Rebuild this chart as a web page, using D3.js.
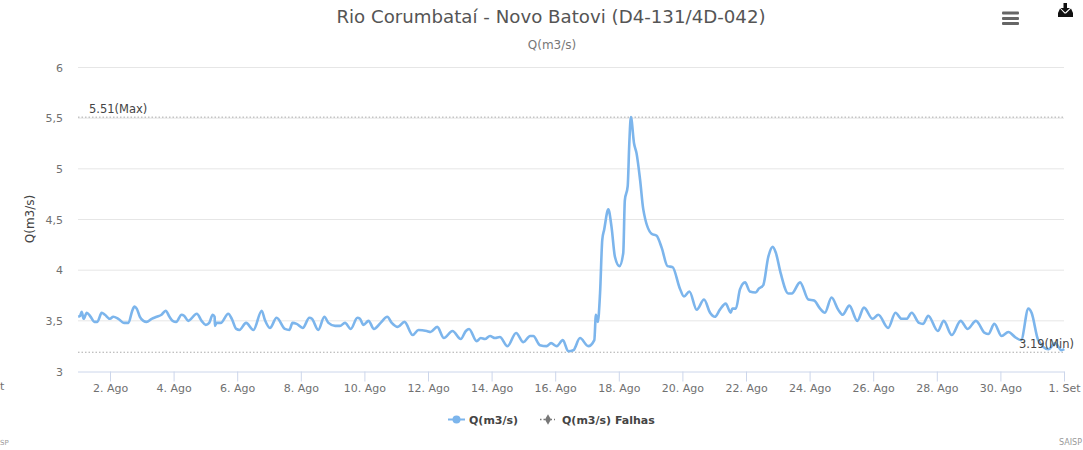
<!DOCTYPE html>
<html>
<head>
<meta charset="utf-8">
<script src="https://cdn.jsdelivr.net/npm/d3@7"></script>
<style>
  html, body { margin: 0; padding: 0; background: #fff; overflow: hidden; }
  text { font-family: "DejaVu Sans", sans-serif; }
  #chart-container { width: 1083px; height: 450px; }
</style>
</head>
<body>
<div id="chart-container"></div>
<script>
// values: day of the period (1 = 1 Ago, 32 = 1 Set) and flow
const days = [
  1.00,1.06,1.11,1.17,1.27,1.37,1.51,1.60,1.74,1.84,2.00,2.10,2.26,2.44,2.58,2.70,2.77,2.84,2.94,3.05,
  3.15,3.31,3.47,3.62,3.75,3.87,3.97,4.08,4.25,4.33,4.46,4.73,4.88,5.01,5.12,5.23,5.29,5.30,5.35,5.48,
  5.72,5.83,5.97,6.07,6.28,6.51,6.77,6.87,7.03,7.24,7.50,7.64,7.74,7.87,8.06,8.27,8.35,8.55,8.74,8.87,
  9.08,9.23,9.39,9.57,9.78,9.86,9.97,10.13,10.30,10.51,10.72,10.86,11.05,11.26,11.52,11.70,11.96,12.08,12.29,12.50,
  12.77,13.03,13.19,13.29,13.53,13.66,13.79,13.95,14.11,14.26,14.50,14.77,15.00,15.21,15.31,15.52,15.73,15.87,16.05,16.24,
  16.41,16.57,16.78,17.04,17.23,17.28,17.34,17.41,17.48,17.54,17.67,17.77,17.88,18.02,18.14,18.19,18.28,18.33,18.38,18.48,
  18.56,18.67,18.77,19.03,19.19,19.35,19.53,19.69,19.92,20.05,20.22,20.45,20.68,20.87,21.02,21.18,21.36,21.52,21.57,21.68,
  21.81,21.97,22.12,22.30,22.41,22.54,22.70,22.84,22.94,23.09,23.33,23.44,23.70,23.96,24.14,24.33,24.48,24.69,24.90,25.04,
  25.25,25.50,25.71,25.98,26.16,26.47,26.70,26.89,27.05,27.21,27.44,27.57,27.73,28.03,28.22,28.47,28.75,28.97,29.23,29.51,
  29.62,29.81,30.04,30.25,30.46,30.65,30.88,30.98,31.19,31.51,31.72,31.92,32.01
];
const flow = [
  3.54,3.55,3.59,3.52,3.58,3.55,3.49,3.49,3.58,3.56,3.52,3.54,3.52,3.48,3.48,3.60,3.64,3.62,3.54,3.50,
  3.49,3.52,3.54,3.56,3.60,3.54,3.50,3.49,3.56,3.55,3.50,3.57,3.50,3.46,3.48,3.56,3.54,3.45,3.48,3.48,
  3.57,3.52,3.42,3.41,3.48,3.41,3.60,3.51,3.43,3.53,3.42,3.41,3.48,3.47,3.43,3.53,3.52,3.41,3.54,3.48,
  3.45,3.45,3.48,3.42,3.53,3.52,3.46,3.50,3.42,3.48,3.54,3.48,3.44,3.49,3.36,3.41,3.40,3.39,3.44,3.33,
  3.40,3.32,3.40,3.42,3.30,3.33,3.32,3.35,3.33,3.34,3.25,3.38,3.29,3.35,3.35,3.26,3.25,3.28,3.25,3.31,
  3.20,3.21,3.33,3.25,3.31,3.56,3.49,3.77,4.30,4.40,4.60,4.43,4.13,4.04,4.17,4.69,4.83,5.25,5.51,5.25,
  5.15,4.89,4.60,4.36,4.34,4.22,4.04,4.03,3.82,3.74,3.79,3.61,3.71,3.58,3.54,3.61,3.67,3.58,3.62,3.62,
  3.81,3.88,3.79,3.78,3.82,3.85,4.13,4.23,4.17,3.97,3.77,3.77,3.88,3.71,3.70,3.62,3.58,3.73,3.61,3.56,
  3.65,3.50,3.63,3.52,3.56,3.43,3.58,3.52,3.52,3.58,3.48,3.47,3.55,3.40,3.50,3.36,3.50,3.42,3.50,3.38,
  3.37,3.47,3.35,3.39,3.34,3.31,3.62,3.58,3.31,3.22,3.28,3.21,3.22
];
const yTicks = [3, 3.5, 4, 4.5, 5, 5.5, 6];
const xTicks = [2, 4, 6, 8, 10, 12, 14, 16, 18, 20, 22, 24, 26, 28, 30, 32];
const xTickLabels = ['2. Ago', '4. Ago', '6. Ago', '8. Ago', '10. Ago', '12. Ago', '14. Ago', '16. Ago',
  '18. Ago', '20. Ago', '22. Ago', '24. Ago', '26. Ago', '28. Ago', '30. Ago', '1. Set'];
const maxValue = 5.51;
const minValue = 3.19;
const legendNames = ['Q(m3/s)', 'Q(m3/s) Falhas'];

const svg = d3.select('#chart-container').append('svg')
  .attr('width', 1083)
  .attr('height', 450);

const xScale = d3.scaleLinear().domain([1, 32]).range([78.2, 1064]);
const yScale = d3.scaleLinear().domain([3, 6]).range([371.5, 67.5]);

// gridlines
svg.append('g')
  .selectAll('line')
  .data(yTicks.slice(1))
  .enter()
  .append('line')
  .attr('x1', 78)
  .attr('x2', 1064)
  .attr('y1', d => yScale(d))
  .attr('y2', d => yScale(d))
  .attr('stroke', '#e6e6e6');

// y axis, labels only
const yAxis = d3.axisLeft(yScale)
  .tickValues(yTicks)
  .tickSize(0)
  .tickPadding(15)
  .tickFormat(d => String(d).replace('.', ','));
const yG = svg.append('g').attr('transform', 'translate(78,0)').call(yAxis);
yG.select('.domain').remove();
yG.selectAll('text').style('font-size', '11px').style('fill', '#707070');

// x axis
const xAxis = d3.axisBottom(xScale)
  .tickValues(xTicks)
  .tickSize(10)
  .tickPadding(3)
  .tickFormat((d, i) => xTickLabels[i]);
const xG = svg.append('g').attr('transform', 'translate(0,371.5)').call(xAxis);
xG.select('.domain').attr('stroke', '#ccd6eb').attr('d', 'M78,0.5H1064.5');
xG.selectAll('line').attr('stroke', '#ccd6eb');
xG.selectAll('text').style('font-size', '11px').style('fill', '#707070');

// max / min lines
svg.append('g')
  .selectAll('line')
  .data([maxValue, minValue])
  .enter()
  .append('line')
  .attr('x1', 78)
  .attr('x2', 1064)
  .attr('y1', d => yScale(d))
  .attr('y2', d => yScale(d))
  .attr('stroke', '#aaa')
  .attr('stroke-dasharray', '1.5,2');

svg.append('text').attr('x', 89).attr('y', yScale(maxValue) - 4.5)
  .style('font-size', '11.5px').style('fill', '#444').text(maxValue + '(Max)');

// series
const line = d3.line()
  .x(d => xScale(d[0]))
  .y(d => yScale(d[1]))
  .curve(d3.curveMonotoneX);

svg.append('path')
  .datum(days.map((d, i) => [d, flow[i]]))
  .attr('d', line)
  .attr('fill', 'none')
  .attr('stroke', '#7cb5ec')
  .attr('stroke-width', 2.6)
  .attr('stroke-linejoin', 'round');

svg.append('text').attr('x', 1019).attr('y', yScale(minValue) - 4)
  .style('font-size', '11.5px').style('fill', '#444').text(minValue + '(Min)');

// titles
svg.append('text').attr('x', 551).attr('y', 23).attr('text-anchor', 'middle')
  .style('font-size', '18.2px').style('fill', '#555').text('Rio Corumbataí - Novo Batovi (D4-131/4D-042)');
svg.append('text').attr('x', 552).attr('y', 49).attr('text-anchor', 'middle')
  .style('font-size', '12px').style('fill', '#777').text('Q(m3/s)');
svg.append('text').attr('transform', 'translate(34,219) rotate(-90)').attr('text-anchor', 'middle')
  .style('font-size', '12px').style('fill', '#444').text('Q(m3/s)');

// stray bits at the edges of the reference, only what is visible there
svg.append('text').attr('x', 0).attr('y', 390)
  .style('font-size', '11px').style('fill', '#707070').text('t');
svg.append('text').attr('x', 0).attr('y', 445)
  .style('font-size', '7px').style('fill', '#999').text('SP');
svg.append('text').attr('x', 1082).attr('y', 445).attr('text-anchor', 'end')
  .style('font-size', '8px').style('fill', '#999').text('SAISP');

// legend
const legend = svg.append('g');
legend.append('line').attr('x1', 448).attr('x2', 465).attr('y1', 419.5).attr('y2', 419.5)
  .attr('stroke', '#7cb5ec').attr('stroke-width', 2);
legend.append('circle').attr('cx', 456.5).attr('cy', 419.5).attr('r', 4).attr('fill', '#7cb5ec');
legend.append('line').attr('x1', 540).attr('x2', 555).attr('y1', 419.5).attr('y2', 419.5)
  .attr('stroke', '#777').attr('stroke-width', 1.5).attr('stroke-dasharray', '1.5,2');
legend.append('path').attr('d', d3.symbol(d3.symbolDiamond, 32)())
  .attr('transform', 'translate(548,419.5)').attr('fill', '#777');
legend.selectAll('text')
  .data(legendNames)
  .enter()
  .append('text')
  .attr('x', (d, i) => [469, 562][i])
  .attr('y', 423.5)
  .style('font-size', '11px')
  .style('font-weight', 'bold')
  .style('fill', '#444')
  .text(d => d);

// menu + download icons
const menu = svg.append('g').attr('fill', '#666');
[11.5, 17, 22].forEach(y => {
  menu.append('rect').attr('x', 1002).attr('y', y).attr('width', 17).attr('height', 3).attr('rx', 1);
});
svg.append('path')
  .attr('d', 'M1063.5,3H1067V8H1070L1065.2,12.5L1060.5,8H1063.5ZM1060,8.5L1058,13V17H1073V13L1071,8.5L1066,13.5H1064.5Z')
  .attr('fill', '#111');
</script>
</body>
</html>
